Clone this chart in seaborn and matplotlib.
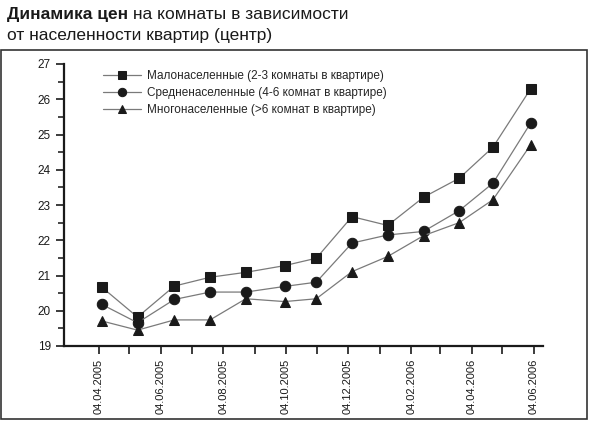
import matplotlib
matplotlib.use("Agg")
import matplotlib.pyplot as plt
import matplotlib.patches as mpatches
import seaborn as sns
import pandas as pd
import numpy as np

# даты замеров (примерно, по положению точек)
dates = pd.to_datetime([
    "2005-04-07", "2005-05-12", "2005-06-17", "2005-07-22", "2005-08-26",
    "2005-10-03", "2005-11-03", "2005-12-08", "2006-01-12", "2006-02-16",
    "2006-03-23", "2006-04-25", "2006-06-01",
])

malo = [20.67, 19.82, 20.70, 20.95, 21.09, 21.28, 21.49, 22.67, 22.42, 23.22, 23.76, 24.64, 26.30]
sredne = [20.18, 19.66, 20.32, 20.53, 20.53, 20.69, 20.81, 21.92, 22.15, 22.25, 22.84, 23.62, 25.33]
mnogo = [19.71, 19.45, 19.74, 19.74, 20.34, 20.26, 20.34, 21.11, 21.54, 22.13, 22.50, 23.15, 24.71]

series_names = [
    "Малонаселенные (2-3 комнаты в квартире)",
    "Средненаселенные (4-6 комнат в квартире)",
    "Многонаселенные (>6 комнат в квартире)",
]
markers = ["s", "o", "^"]

# месячные деления 04.04.2005 ... 04.06.2006, подписи через одно
tick_dates = pd.date_range("2005-04-01", "2006-06-01", freq="MS") + pd.Timedelta(days=3)
tick_labels = [d.strftime("%d.%m.%Y") if i % 2 == 0 else "" for i, d in enumerate(tick_dates)]

sns.set_style("ticks")
plt.rcParams["font.family"] = ["Liberation Sans", "DejaVu Sans"]

df = pd.DataFrame({"date": dates, series_names[0]: malo, series_names[1]: sredne, series_names[2]: mnogo})
long_df = df.melt(id_vars="date", var_name="series", value_name="price")

fig = plt.figure(figsize=(5.9, 4.21), dpi=100)
ax = fig.add_axes([64 / 590, 1 - 346 / 421, 479 / 590, 282 / 421])

for name, m in zip(series_names, markers):
    sub = long_df[long_df["series"] == name]
    sns.lineplot(data=sub, x="date", y="price", ax=ax, color="#7a7a7a", linewidth=0.9,
                 marker=m, markersize=7.5, markerfacecolor="#1a1a1a",
                 markeredgecolor="#1a1a1a", label=name)

ax.set_ylim(19, 27)
ax.set_yticks(np.arange(19, 28, 1))
ax.set_yticks(np.arange(19.5, 27, 1), minor=True)
ax.set_xlim(pd.Timestamp("2005-03-01"), pd.Timestamp("2006-06-13"))
ax.set_xticks(tick_dates)
ax.set_xticklabels(tick_labels, rotation=90)
ax.set_xlabel("")
ax.set_ylabel("")

sns.despine(ax=ax)
for side in ["left", "bottom"]:
    ax.spines[side].set_linewidth(1.6)
    ax.spines[side].set_color("#1a1a1a")
ax.tick_params(axis="both", which="major", length=6, width=1.2, colors="#1a1a1a")
ax.tick_params(axis="y", which="major", labelsize=8.5)
ax.tick_params(axis="x", which="major", labelsize=8, pad=3)
ax.tick_params(axis="y", which="minor", length=4, width=1.2)

leg = ax.legend(loc="upper left", bbox_to_anchor=(0.06, 1.015), frameon=False,
                fontsize=8.5, handlelength=3.2, labelspacing=0.4, handletextpad=0.5,
                markerscale=0.8)

# рамка вокруг графика
fig.patches.append(mpatches.Rectangle((1 / 590, 1 - 419 / 421), 586 / 590, 369 / 421,
                                      transform=fig.transFigure, fill=False,
                                      edgecolor="#333333", linewidth=1.2))

t1 = fig.text(7 / 590, 1 - 22 / 421, "Динамика цен", fontsize=12.5, fontweight="bold",
              va="bottom", ha="left", color="#1a1a1a")
ax.annotate(" на комнаты в зависимости", xy=(1, 0), xycoords=t1, va="bottom", ha="left",
            fontsize=12.5, color="#1a1a1a", annotation_clip=False)
fig.text(7 / 590, 1 - 43 / 421, "от населенности квартир (центр)", fontsize=12.5,
         va="bottom", ha="left", color="#1a1a1a")

fig.savefig("out.png", dpi=100)
